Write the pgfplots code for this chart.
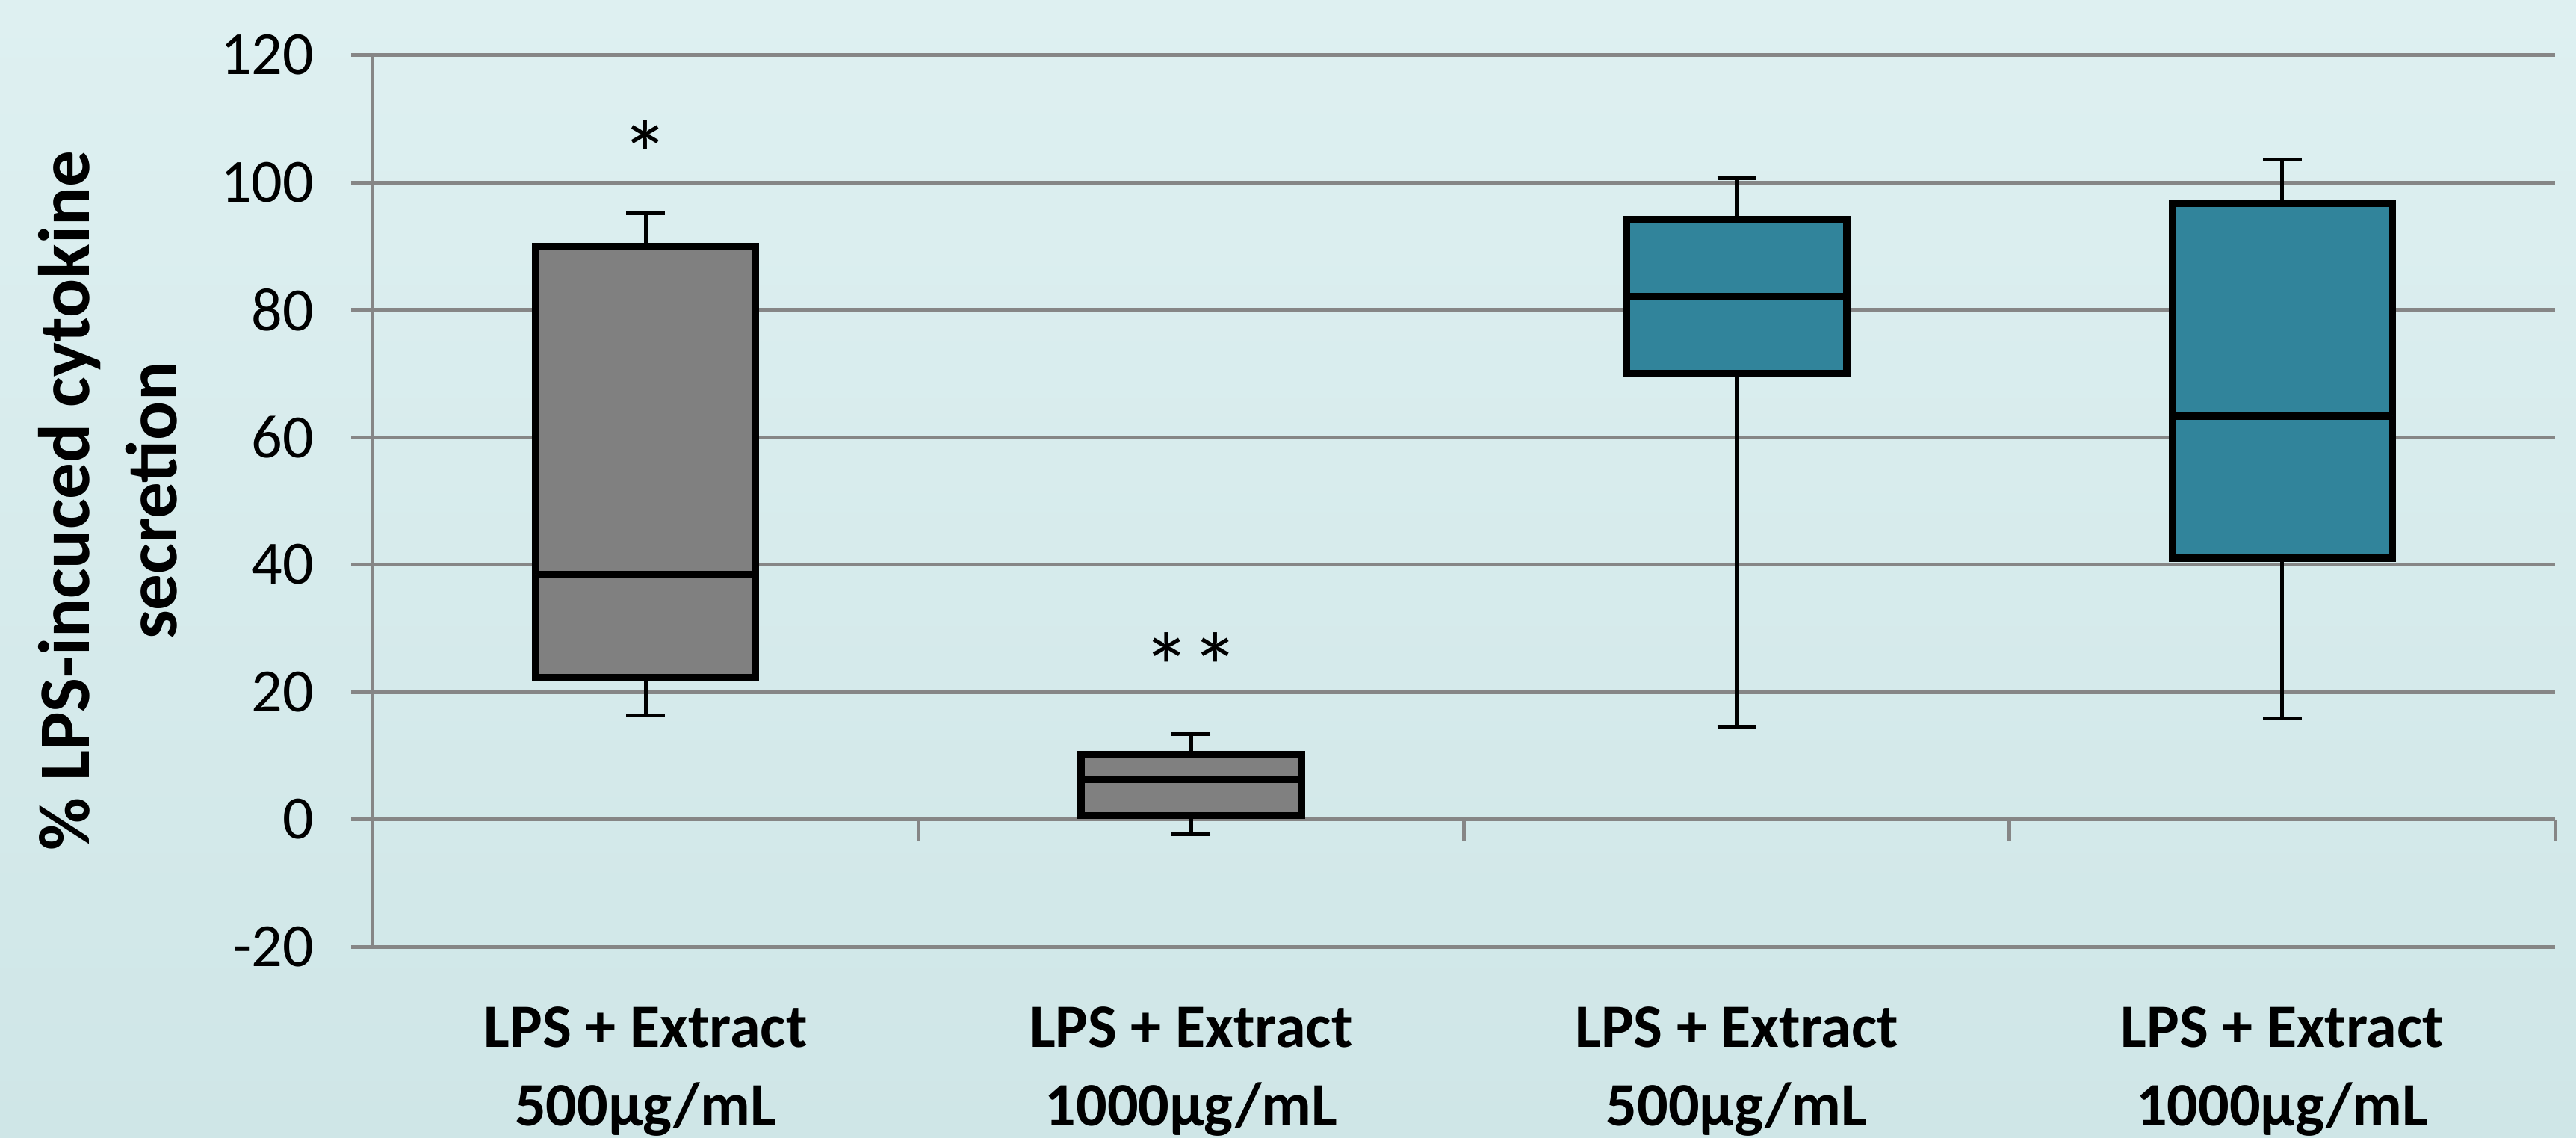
\documentclass[border=0pt]{standalone}
\usepackage{pgfplots}
\pgfplotsset{compat=1.18}
\usepgfplotslibrary{statistics}
\usepackage{fontspec}
\setmainfont{Carlito}

\definecolor{bgtop}{RGB}{222,240,241}
\definecolor{bgbot}{RGB}{207,230,231}
\definecolor{gridgray}{RGB}{134,134,134}
\definecolor{boxgray}{RGB}{128,128,128}
\definecolor{boxteal}{RGB}{49,132,155}

\begin{document}
\begin{tikzpicture}
% chart background
\fill[top color=bgtop, bottom color=bgbot] (-99.8bp,-51.2bp) rectangle (589.8bp,253.4bp);
\begin{axis}[
  at={(0,0)}, anchor=south west,
  scale only axis, width=584.2bp, height=238.7bp,
  xmin=-0.5, xmax=3.5, ymin=-20, ymax=120,
  clip=false,
  ytick={-20,0,20,40,60,80,100,120},
  xtick={0,1,2,3},
  xticklabels={LPS + Extract\\500µg/mL, LPS + Extract\\1000µg/mL, LPS + Extract\\500µg/mL, LPS + Extract\\1000µg/mL},
  axis line style={draw=none},
  tick style={draw=none},
  ymajorgrids, grid style={gridgray, line width=1bp},
  /pgf/number format/assume math mode=true,
  yticklabel style={anchor=east, inner sep=0pt, xshift=-15.6bp, font=\fontsize{16.5}{19}\selectfont},
  xticklabel style={anchor=base, inner sep=0pt, yshift=-47.8bp, align=center, font=\bfseries\fontsize{16.5}{21}\selectfont},
  ylabel={\% LPS-incuced cytokine\\secretion},
  every axis y label/.style={at={(rel axis cs:-0.0897,0.5)}, rotate=90, anchor=base, align=center, font=\bfseries\fontsize{19.5}{23.6}\selectfont},
  boxplot/draw direction=y,
  boxplot/box extend=0.404,
  boxplot/whisker extend=0.071,
  boxplot/every box/.style={draw=black, line width=1.9bp},
  boxplot/every median/.style={draw=black, line width=1.9bp},
  boxplot/every whisker/.style={draw=black, line width=1bp},
]
% axis line and outside tick stubs
\draw[gridgray, line width=1bp] (axis cs:-0.5,-20) -- (axis cs:-0.5,120);
\pgfplotsinvokeforeach{-20,0,20,40,60,80,100,120}{
  \draw[gridgray, line width=1bp] (axis cs:-0.5,#1) -- ([xshift=-5.8bp]axis cs:-0.5,#1);
}
\pgfplotsinvokeforeach{-0.5,0.5,1.5,2.5,3.5}{
  \draw[gridgray, line width=1bp] (axis cs:#1,0) -- ([yshift=-5.6bp]axis cs:#1,0);
}

\addplot[draw=black, fill=boxgray, boxplot prepared={draw position=0,
  lower whisker=16.3, lower quartile=22.2, median=38.5,
  upper quartile=90.0, upper whisker=95.1}] coordinates {};
\addplot[draw=black, fill=boxgray, boxplot prepared={draw position=1,
  lower whisker=-2.3, lower quartile=0.6, median=6.3,
  upper quartile=10.2, upper whisker=13.4}] coordinates {};
\addplot[draw=black, fill=boxteal, boxplot prepared={draw position=2,
  lower whisker=14.6, lower quartile=70.0, median=82.1,
  upper quartile=94.2, upper whisker=100.6}] coordinates {};
\addplot[draw=black, fill=boxteal, boxplot prepared={draw position=3,
  lower whisker=15.8, lower quartile=41.0, median=63.3,
  upper quartile=96.7, upper whisker=103.6}] coordinates {};

% significance markers
\node[font=\fontsize{26}{26}\selectfont, inner sep=0pt] at (axis cs:0,104.4) {*};
\node[font=\fontsize{26}{26}\selectfont, inner sep=0pt] at (axis cs:1,23.9) {**};
\end{axis}
\pgfresetboundingbox
\path[use as bounding box] (-99.8bp,-51.2bp) rectangle (589.8bp,253.4bp);
\end{tikzpicture}
\end{document}
